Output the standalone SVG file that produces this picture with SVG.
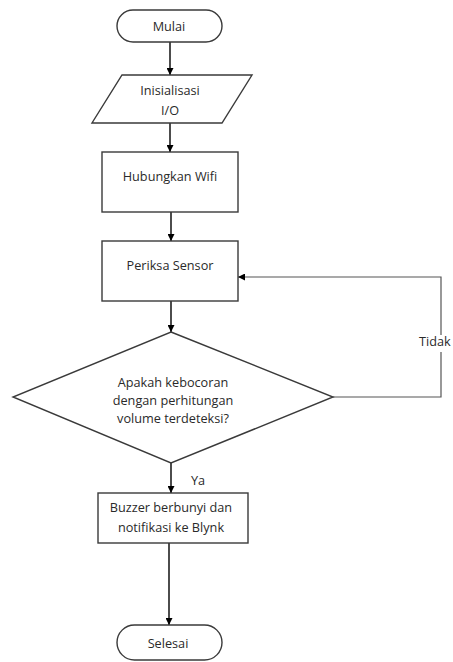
<svg xmlns="http://www.w3.org/2000/svg" width="453" height="662" viewBox="0 0 453 662">
<defs>
<marker id="ah" viewBox="0 0 10 10" refX="10" refY="5" markerWidth="7" markerHeight="7" markerUnits="userSpaceOnUse" orient="auto">
<path d="M0,0 L10,5 L0,10 z" fill="#000"/>
</marker>
<style>
.s{fill:#fff;stroke:#3a3a3a;stroke-width:1.4}
.t{font-family:"Open Sans","Noto Sans",sans-serif;font-size:12.7px;fill:#2a2a2a;text-anchor:middle}
.c{fill:none;stroke:#000;stroke-width:1.4}
.g{fill:none;stroke:#555;stroke-width:1.2}
</style>
</defs>
<rect width="453" height="662" fill="#fff"/>
<g id="connectors">
<line class="c" x1="170" y1="42" x2="170" y2="75" marker-end="url(#ah)"/>
<line class="c" x1="170" y1="123" x2="170" y2="152" marker-end="url(#ah)"/>
<line class="c" x1="171" y1="212" x2="171" y2="241" marker-end="url(#ah)"/>
<line class="c" x1="171" y1="301" x2="171" y2="332" marker-end="url(#ah)"/>
<line class="c" x1="171" y1="463" x2="171" y2="493" marker-end="url(#ah)"/>
<line class="c" x1="169" y1="543" x2="169" y2="625" marker-end="url(#ah)"/>
<polyline class="g" points="333,397 441,397 441,277 238,277" marker-end="url(#ah)"/>
<rect x="412" y="335" width="41" height="17" fill="#fff"/>
<text class="t" x="419" y="346" style="text-anchor:start">Tidak</text>
<text class="t" x="198" y="485">Ya</text>
</g>
<g id="mulai">
<rect class="s" x="117" y="10" width="105" height="32" rx="16"/>
<text class="t" x="169" y="31">Mulai</text>
</g>
<g id="inisialisasi">
<polygon class="s" points="122,75 252,75 222,123 92,123"/>
<text class="t" x="170" y="95">Inisialisasi</text>
<text class="t" x="170" y="115">I/O</text>
</g>
<g id="wifi">
<rect class="s" x="102" y="152" width="136" height="60"/>
<text class="t" x="170" y="181">Hubungkan Wifi</text>
</g>
<g id="sensor">
<rect class="s" x="102" y="241" width="136" height="60"/>
<text class="t" x="170" y="270">Periksa Sensor</text>
</g>
<g id="decision">
<polygon class="s" points="171,332 333,397 171,463 13,397"/>
<text class="t" x="173" y="387">Apakah kebocoran</text>
<text class="t" x="173" y="405">dengan perhitungan</text>
<text class="t" x="173" y="423">volume terdeteksi?</text>
</g>
<g id="buzzer">
<rect class="s" x="98" y="493" width="150" height="50"/>
<text class="t" x="171" y="512">Buzzer berbunyi dan</text>
<text class="t" x="171" y="532">notifikasi ke Blynk</text>
</g>
<g id="selesai">
<rect class="s" x="117" y="625" width="105" height="35" rx="17.5"/>
<text class="t" x="168" y="648">Selesai</text>
</g>
</svg>
